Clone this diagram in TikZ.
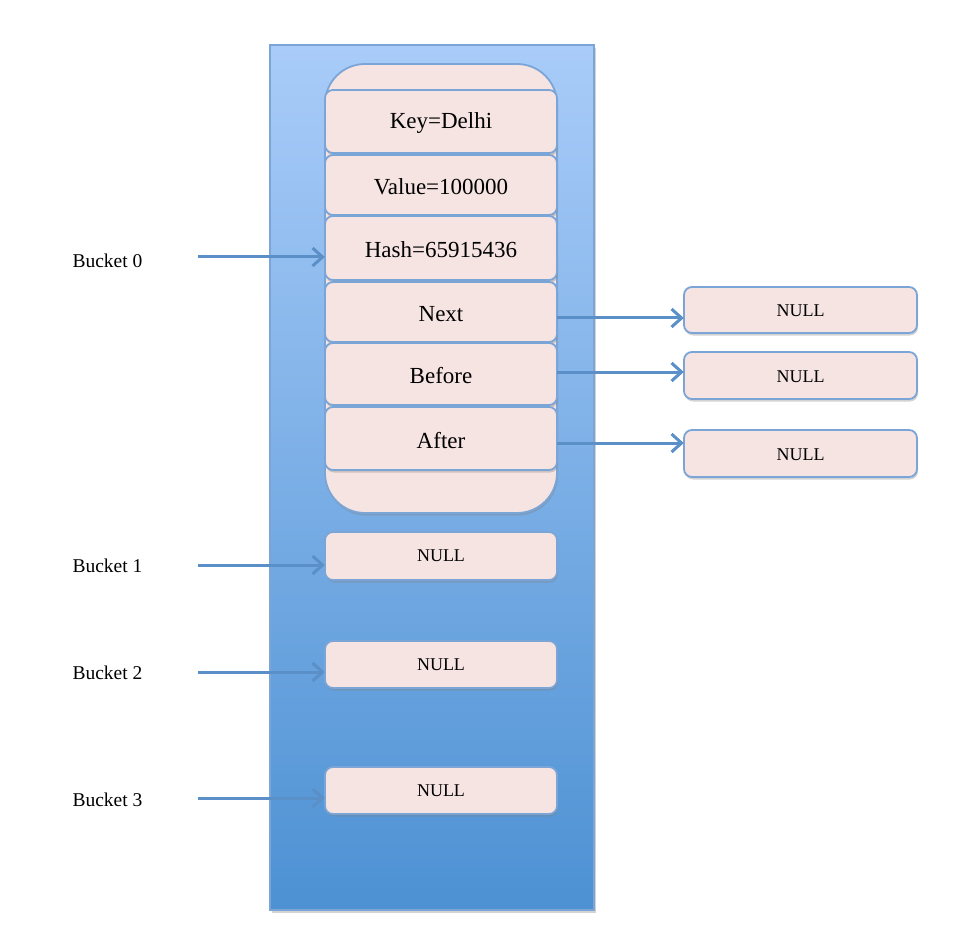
\documentclass[tikz,border=0pt]{standalone}
\usepackage{fontspec}
\setmainfont{Liberation Serif}
\usetikzlibrary{arrows.meta,shadows}
\definecolor{topblue}{HTML}{A9CCF9}
\definecolor{botblue}{HTML}{4D91D3}
\definecolor{edgeblue}{HTML}{7AA5D6}
\definecolor{pinkfill}{HTML}{F5E4E2}
\definecolor{arrowblue}{HTML}{5B8FC7}
\begin{document}
\begin{tikzpicture}[x=1pt,y=-1pt,
  cell/.style={draw=edgeblue,line width=1.8pt,fill=pinkfill,rounded corners=8pt,
    drop shadow={shadow xshift=1pt,shadow yshift=-2.5pt,opacity=0.35}},
  celltext/.style={font=\fontsize{23}{23}\selectfont},
  nulltext/.style={font=\fontsize{18}{18}\selectfont},
  labeltext/.style={font=\fontsize{19.5}{19.5}\selectfont,anchor=west},
  link/.style={draw=arrowblue,line width=3pt,-{Straight Barb[length=10pt,width=18pt,line width=3pt]}}]
\useasboundingbox (0,0) rectangle (978,944);
% big blue table
\shade[top color=topblue,bottom color=botblue,drop shadow={shadow xshift=2pt,shadow yshift=-3pt,opacity=0.35}] (270,45) rectangle (594,910);
\draw[edgeblue,line width=1.2pt] (270,45) rectangle (594,910);
% container
\draw[cell,rounded corners=40pt] (325,64) rectangle (557,513);
% cells
\foreach \n/\t/\b/\txt in {key/90/153/Key=Delhi, val/155/215/Value=100000, hash/216/280/Hash=65915436, next/282/342/Next, before/343/405/Before, after/407/470/After}{
  \draw[cell] (325,\t) rectangle (557,\b);
  \node[celltext,inner sep=0pt,minimum width=232pt,minimum height={\b-\t}] (\n) at (441,{(\t+\b)/2+2}) {\txt};
}
% bucket NULL boxes
\foreach \n/\t/\b in {b1/532/580, b2/641/688, b3/767/814}{
  \draw[cell] (325,\t) rectangle (557,\b);
  \node[nulltext,inner sep=0pt,minimum width=232pt,minimum height={\b-\t}] (\n) at (441,{(\t+\b)/2}) {NULL};
}
% right NULL boxes
\foreach \n/\t/\b in {n1/287/333, n2/352/399, n3/430/477}{
  \draw[cell] (684,\t) rectangle (917,\b);
  \node[nulltext,inner sep=0pt,minimum width=233pt,minimum height={\b-\t}] (\n) at (800.5,{(\t+\b)/2+1}) {NULL};
}
% bucket labels
\node[labeltext] (l0) at (69,261) {Bucket 0};
\node[labeltext] (l1) at (69,566) {Bucket 1};
\node[labeltext] (l2) at (69,673) {Bucket 2};
\node[labeltext] (l3) at (69,800) {Bucket 3};
\coordinate (s0) at (198,257);
\coordinate (s1) at (198,565);
\coordinate (s2) at (198,672);
\coordinate (s3) at (198,798);
\draw[link] (s0) -- (hash.west |- s0);
\draw[link] (s1) -- (b1.west |- s1);
\draw[link] (s2) -- (b2.west |- s2);
\draw[link] (s3) -- (b3.west |- s3);
\draw[link] (next.east |- 0,318) -- (n1.west |- 0,318);
\draw[link] (before.east |- 0,372) -- (n2.west |- 0,372);
\draw[link] (after.east |- 0,443) -- (n3.west |- 0,443);
\end{tikzpicture}
\end{document}
